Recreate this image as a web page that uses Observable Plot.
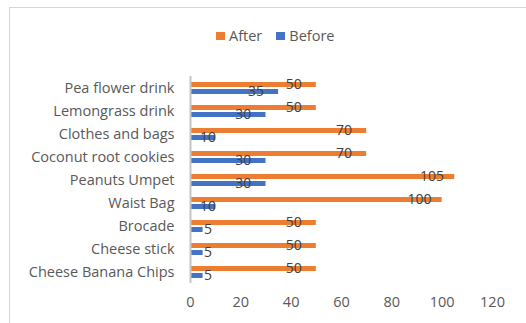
<!DOCTYPE html>
<html>
<head>
<meta charset="utf-8">
<script src="https://cdn.jsdelivr.net/npm/d3@7"></script>
<script src="https://cdn.jsdelivr.net/npm/@observablehq/plot@0.6"></script>
<style>
  html, body { margin: 0; padding: 0; background: #fff; overflow: hidden; }
  #wrap { position: relative; width: 526px; height: 323px; font-family: "Open Sans", sans-serif; }
  #frame { position: absolute; left: 9px; top: 7px; width: 540px; height: 340px; border-left: 1.5px solid #D6D6D6; border-top: 1.5px solid #D6D6D6; box-sizing: border-box; }
  #legend { position: absolute; top: 26px; left: 216px; display: flex; align-items: center; font-size: 14.5px; color: #595959; }
  #legend .item { display: flex; align-items: center; margin-right: 14px; }
  #legend .sw { width: 9px; height: 8px; margin-right: 4px; }
  #chart { position: absolute; left: 0; top: 0; }
</style>
</head>
<body>
<div id="wrap">
  <div id="frame"></div>
  <div id="chart"></div>
  <div id="legend"></div>
</div>
<script>
// Categories, top to bottom
const categories = [
  "Pea flower drink",
  "Lemongrass drink",
  "Clothes and bags",
  "Coconut root cookies",
  "Peanuts Umpet",
  "Waist Bag",
  "Brocade",
  "Cheese stick",
  "Cheese Banana Chips"
];
const series = ["After", "Before"];
const afterValues = [50, 50, 70, 70, 105, 100, 50, 50, 50];
const beforeValues = [35, 30, 10, 30, 30, 10, 5, 5, 5];
const xTicks = [0, 20, 40, 60, 80, 100, 120];
const colors = ["#ED7D31", "#4472C4"];

const rows = [];
categories.forEach((c, i) => {
  rows.push({category: c, series: "After", value: afterValues[i]});
  rows.push({category: c, series: "Before", value: beforeValues[i]});
});

const chart = Plot.plot({
  width: 526,
  height: 323,
  marginLeft: 190,
  marginRight: 34,
  marginTop: 75,
  marginBottom: 40,
  style: {fontFamily: "Open Sans, sans-serif", fontSize: "14.5px", color: "#595959", background: "transparent"},
  facet: {data: rows, y: "category"},
  fy: {domain: categories, paddingInner: 0, paddingOuter: 0, axis: "left", label: null, tickSize: 0, tickPadding: 16},
  y: {domain: series, axis: null, paddingInner: 0.32, paddingOuter: 0.72, align: 0.55},
  x: {domain: [0, 120], ticks: xTicks, tickSize: 0, tickPadding: 13, label: null, line: false},
  color: {domain: series, range: colors},
  marks: [
    Plot.barX(rows, {x: "value", y: "series", fill: "series"}),
    Plot.text(rows, {
      x: d => Math.max(d.value - 9, 7),
      y: "series",
      text: d => String(d.value),
      fill: "#404040",
      fontSize: 14,
      textAnchor: "middle"
    }),
    Plot.ruleX([0], {stroke: "#C4C4C4", strokeWidth: 2})
  ]
});
document.getElementById("chart").appendChild(chart);

const legend = document.getElementById("legend");
series.forEach((s, i) => {
  const item = document.createElement("div");
  item.className = "item";
  const sw = document.createElement("span");
  sw.className = "sw";
  sw.style.background = colors[i];
  const label = document.createElement("span");
  label.textContent = s;
  item.appendChild(sw);
  item.appendChild(label);
  legend.appendChild(item);
});
</script>
</body>
</html>
